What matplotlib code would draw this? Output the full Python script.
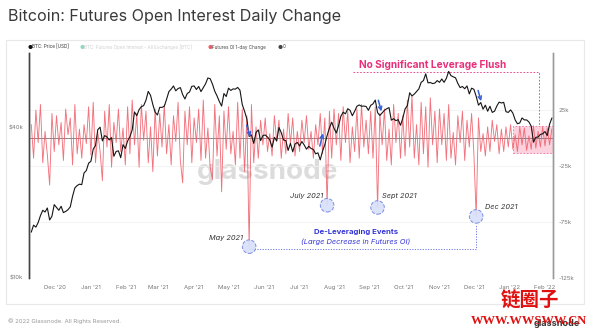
import matplotlib
matplotlib.use('Agg')
import matplotlib.pyplot as plt
import matplotlib.dates as mdates
import numpy as np
import pandas as pd
from matplotlib.patches import Rectangle

# ---------------- data ----------------
series_start = '2020-11-10'   # every 2 days
btc_price = [15.3, 16.3, 16.0, 16.7, 17.8, 18.7, 18.4, 19.1, 17.1, 17.7, 19.7,
             19.2, 18.7, 19.4, 18.3, 18.5, 18.8, 19.3, 21.3, 23.0, 23.5, 23.8, 23.7, 26.4, 27.0, 28.9,
             29.4, 32.9, 34.0, 39.4, 40.3, 35.5, 37.3, 36.8, 35.8, 36.6, 30.8, 32.2, 32.4, 30.4, 34.3, 33.1,
             35.5, 36.9, 39.3, 46.4, 44.8, 47.4, 48.7, 49.2, 51.7, 56.1, 54.1, 49.7, 46.3, 45.1,
             48.4, 48.4, 48.9, 52.2, 56.0, 57.3, 59.0, 56.4, 57.6, 58.1, 54.5, 52.3, 55.0, 55.8, 58.8,
             59.0, 57.1, 58.7, 56.0, 58.1, 60.2, 63.5, 63.1, 60.0, 56.2, 53.8, 51.1, 49.0, 55.0, 53.5,
             57.8, 56.6, 57.4, 57.3, 58.2, 56.7, 49.7, 46.7, 43.5, 37.0, 37.5, 34.7, 38.4, 39.3, 35.6, 37.3,
             37.5, 36.8, 35.8, 33.5, 36.7, 35.5, 40.2, 38.3, 35.8, 35.6, 32.5, 34.7, 32.1, 34.5, 35.0,
             33.9, 35.3, 34.2, 32.9, 33.8, 33.1, 32.8, 31.5, 31.8, 29.8, 32.3, 34.3, 37.3, 40.0, 42.2,
             39.9, 38.2, 40.9, 44.6, 46.3, 45.6, 47.8, 47.1, 44.8, 46.7, 48.9, 49.5, 48.9, 49.0, 48.8, 47.1,
             49.3, 50.0, 51.8, 46.1, 44.9, 46.0, 47.1, 47.8, 48.3, 43.0, 43.6, 42.8, 43.2, 41.0, 43.8,
             47.7, 49.2, 55.4, 53.8, 54.7, 56.0, 57.4, 61.0, 62.0, 66.0, 60.7, 60.9, 60.3, 60.6, 62.0,
             61.0, 62.9, 61.0, 63.3, 67.5, 64.9, 64.2, 63.6, 60.4, 58.1, 58.7, 57.5, 59.0, 54.8, 57.8,
             57.2, 53.6, 49.4, 50.6, 47.6, 49.4, 46.7, 48.9, 46.2, 46.7, 49.0, 50.8, 50.4, 50.7, 46.5, 46.2,
             47.3, 45.9, 43.1, 41.6, 41.9, 43.9, 43.1, 43.1, 42.3, 40.7, 35.1, 36.7, 36.8, 37.7, 37.9,
             38.7, 37.3, 41.4, 43.8]   # thousand USD

oi_change = [12, -18, 25, -4, 30, -22, 6, -15, -42, 22, -12,
             20, -6, 14, -20, 26, 3, 18, -24, 30, -14, 8, -18, 12, -5, 28,
             -15, 32, -22, 5, -12, -38, 24, -8, 30, -26, 14, -4, 26, -12, 9, -24,
             28, -14, 34, -6, 22, -26, 30, -2, 24, -22, 10, -30, 26, -16,
             22, -8, 30, -14, 12, -24, 20, -3, 32, -20, -40, 24, -6, 28, -22,
             18, -4, 26, -20, 34, -18, 9, -26, -37, 30, -16, 20, -48, 24, -10,
             28, -14, 6, -24, 32, -18, 26, -30, 20, -97, 30, -22, 10, -18, 16, -6,
             18, -12, 4, -16, 20, -3, 16, -18, 8, -14, 22, -5, 18, -16, 6,
             -12, 16, -4, 20, -10, 6, -18, 12, -6, 22, -14, 18, -60, 24, -18,
             26, -6, 22, -20, 28, -4, 24, -22, 10, -12, 26, -18, 30, -8, 16, -14,
             24, -18, 28, -62, 22, -6, 26, -20, 8, -24, 30, -4, 22, -18, 20,
             -16, 34, -8, 38, -18, 12, -24, 32, -14, 28, -26, 36, -6, 24, -22,
             26, -6, 22, -20, 30, -18, 5, -24, 20, -4, 24, -20, 16, -8, 22,
             -14, -70, 18, -12, 4, -16, 10, -12, 16, -3, 12, -14, 8, -12, 10, -8,
             12, -10, 3, -12, 10, -6, 9, -11, 2, -10, 11, -9, 6, -8, 10,
             -7, 9, -6, 8]   # thousand BTC

event_dates = ['2021-05-19', '2021-07-26', '2021-09-08', '2021-12-03']
event_values = [-97, -60, -62, -70]
event_labels = ['May 2021', 'July 2021', 'Sept 2021', 'Dec 2021']

left_ticks = [10, 40]
left_tick_labels = ['$10k', '$40k']
right_ticks = [25, -25, -75, -125]
right_tick_labels = ['25k', '-25k', '-75k', '-125k']

legend_labels = ['BTC: Price [USD]', 'BTC: Futures Open Interest - All Exchanges [BTC]',
                 'Futures OI 1-day Change', '0']

# ---------------- figure ----------------
W, H = 589, 328
fig = plt.figure(figsize=(W / 100, H / 100), dpi=100)
fig.patch.set_facecolor('white')
FONT = ['Inter', 'DejaVu Sans']
plt.rcParams['font.family'] = FONT

def fx(px):
    return px / W

def fy(py):
    return 1 - py / H

BLUE = '#3535d8'
PINK = '#e8307a'
RED = '#f05a66'

# card
fig.patches.append(Rectangle((fx(6), fy(304)), fx(584) - fx(6), fy(40) - fy(304),
                             transform=fig.transFigure, facecolor='white',
                             edgecolor='#e8e8e8', lw=0.8, zorder=-5))

fig.text(fx(8), fy(17), 'Bitcoin: Futures Open Interest Daily Change', fontsize=11.6,
         color='#3a3a3a', va='center', ha='left')

# legend
leg_x = [28, 80, 208, 278]
leg_dot = ['#111111', '#8fd9bd', RED, '#444444']
leg_txt = ['#333333', '#d0d0d0', '#444444', '#444444']
for lab, x, dc, tc in zip(legend_labels, leg_x, leg_dot, leg_txt):
    fig.text(fx(x), fy(47), '\u25cf', color=dc, fontsize=4, va='center', ha='left')
    fig.text(fx(x + 4.5), fy(47), lab, color=tc, fontsize=3.3, va='center', ha='left')

# watermark (behind the plot)
fig.text(fx(267), fy(172), 'glassnode', fontsize=20, color='#dcdcdc',
         ha='center', va='center', fontweight='bold', zorder=-1)

ax = fig.add_axes([fx(29), fy(278), fx(553) - fx(29), fy(53) - fy(278)])
ax2 = ax.twinx()
ax.patch.set_visible(False)
ax2.patch.set_visible(False)

price_dates = pd.date_range(series_start, periods=len(btc_price), freq='2D')
oi_dates = pd.date_range(series_start, periods=len(oi_change), freq='2D')
ev_dates = pd.to_datetime(event_dates)

ax.set_yscale('log')
ax.set_ylim(10, 80)
ax2.set_ylim(-125, 76)
xmin, xmax = pd.Timestamp('2020-11-08'), pd.Timestamp('2022-02-08')
ax.set_xlim(xmin, xmax)

# pink box region
box_start = pd.Timestamp('2022-01-04')
ax2.add_patch(Rectangle((mdates.date2num(box_start), -13.4),
                        mdates.date2num(xmax) - mdates.date2num(box_start), 24.1,
                        facecolor='#f9b9cb', alpha=0.65, edgecolor=PINK, lw=0.6,
                        ls=(0, (2, 2)), zorder=1))

ax2.grid(axis='y', color='#f1f1f1', lw=0.6, zorder=0)
ax2.axhline(0, color='#777777', lw=0.6, zorder=2)
ax2.plot(oi_dates, oi_change, color=RED, lw=0.65, alpha=0.85, zorder=3)

ax.plot(price_dates, btc_price, color='#151515', lw=0.8, zorder=4)
ax.set_zorder(ax2.get_zorder() + 1)

# dashed bracket for "No Significant Leverage Flush"
br_start, br_end = pd.Timestamp('2021-08-18'), pd.Timestamp('2022-01-27')
ax2.plot([br_start, br_end, br_end], [59, 59, 10.7], color=PINK, lw=0.6,
         ls=(0, (2, 2)), zorder=2)
fig.text(fx(433), fy(65), 'No Significant Leverage Flush', color=PINK, fontsize=7.3,
         fontweight='bold', ha='center', va='center')

# event circles
ax2.scatter(ev_dates, event_values, s=95, facecolor='#d8e0fb', alpha=0.9,
            edgecolor='#7282e2', linewidths=0.7, linestyles='--', zorder=6)
offsets = [(-4.5, 6.5, 'right'), (-3, 6.5, 'right'), (3, 8.5, 'left'), (6, 6.5, 'left')]
for d, v, lab, (ox, oy, ha) in zip(ev_dates, event_values, event_labels, offsets):
    ax2.annotate(lab, xy=(d, v), xytext=(ox, oy), textcoords='offset points',
                 ha=ha, va='center', fontsize=5.3, style='italic', color='#333333')

# dotted connector
ax2.plot([ev_dates[0], ev_dates[3], ev_dates[3]], [-99, -99, -77], color='#6b7be0',
         lw=0.7, ls=(0, (1.2, 1.5)), zorder=5)
fig.text(fx(356), fy(232), 'De-Leveraging Events', color=BLUE, fontsize=5.6,
         fontweight='bold', ha='center', va='center')
fig.text(fx(356), fy(242), '(Large Decrease in Futures OI)', color=BLUE, fontsize=5.4,
         style='italic', ha='center', va='center')

# blue arrows on price
arrows = [(('2021-05-16', 42.0), ('2021-05-21', 36.0)),
          (('2021-07-19', 33.0), ('2021-07-23', 39.0)),
          (('2021-09-08', 53.0), ('2021-09-12', 45.5)),
          (('2021-12-04', 58.0), ('2021-12-08', 50.0))]
for (d0, p0), (d1, p1) in arrows:
    ax.annotate('', xy=(pd.Timestamp(d1), p1), xytext=(pd.Timestamp(d0), p0),
                arrowprops=dict(arrowstyle='->', color='#3a62d8', lw=1.1,
                                mutation_scale=6), zorder=7)

# axes styling
ax.set_yticks(left_ticks)
ax.set_yticklabels(left_tick_labels)
ax.yaxis.set_minor_locator(matplotlib.ticker.NullLocator())
ax2.set_yticks(right_ticks)
ax2.set_yticklabels(right_tick_labels)
ax.xaxis.set_major_locator(mdates.MonthLocator())
ax.xaxis.set_major_formatter(mdates.DateFormatter("%b '%y"))
for a in (ax, ax2):
    a.tick_params(length=0, labelsize=4.3, labelcolor='#777777', pad=4)
    for s in ('top', 'bottom'):
        a.spines[s].set_visible(False)
    a.spines['left'].set_color('#444444')
    a.spines['right'].set_color('#9a9a9a')
    a.spines['left'].set_linewidth(1.0)
    a.spines['right'].set_linewidth(1.0)
ax.tick_params(axis='x', pad=5)

# footer
fig.text(fx(8), fy(321), '\u00a9 2022 Glassnode. All Rights Reserved.', fontsize=4.3,
         color='#999999', va='center', ha='left')
fig.text(fx(580), fy(323), 'glassnode', fontsize=6.5, color='#333333', va='center',
         ha='right', fontweight='bold')
fig.text(fx(530), fy(301), '链圈子', fontsize=14, color='#e01010', va='center',
         ha='center', fontweight='bold', family=['Noto Sans CJK SC', 'DejaVu Sans'])
fig.text(fx(529), fy(321), 'WWW.WWSWW.CN', fontsize=9, color='#e01010', va='center',
         ha='center', fontweight='bold', family=['Liberation Serif', 'DejaVu Serif'])

fig.savefig('out.png', dpi=100, facecolor='white')
